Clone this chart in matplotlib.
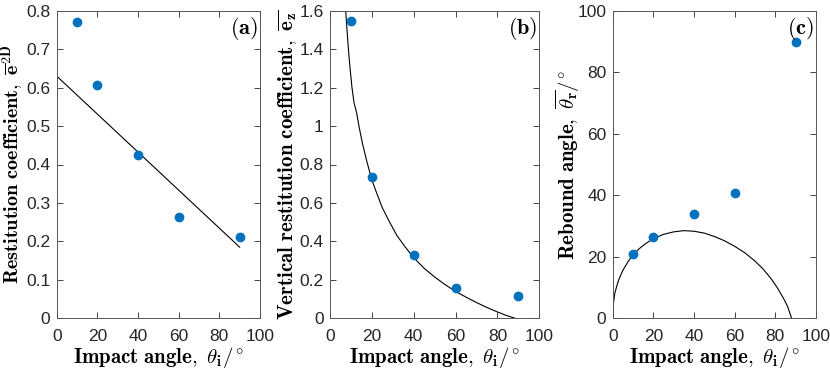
import matplotlib
matplotlib.use('Agg')
import matplotlib.pyplot as plt
from matplotlib.ticker import FuncFormatter, MultipleLocator

plt.rcParams['mathtext.fontset'] = 'cm'
plt.rcParams['font.family'] = ['Liberation Sans', 'DejaVu Sans']

# measured data
impact = [10, 20, 40, 60, 90]
e2d = [0.770, 0.608, 0.425, 0.263, 0.212]
ez = [1.548, 0.735, 0.328, 0.159, 0.118]
rebound = [20.8, 26.4, 33.9, 40.7, 89.9]

# fitted curves
fit_a_x = [0, 90]
fit_a_y = [0.630, 0.185]

fit_b_x = [7.5, 8, 8.8, 9.5, 10.5, 11.5, 12.7, 14, 15.5, 17.5, 20, 22, 25, 28, 32, 36, 40, 45,
           50, 55, 60, 65, 70, 75, 80, 84, 88.4]
fit_b_y = [1.60, 1.52, 1.40, 1.31, 1.20, 1.12, 1.07, 0.99, 0.91, 0.82, 0.72, 0.66, 0.575, 0.51,
           0.43, 0.37, 0.315, 0.26, 0.215, 0.175, 0.14, 0.11, 0.082, 0.056, 0.033, 0.016, 0.0]

fit_c_x = [0, 0.3, 1, 2, 3, 5, 7.5, 10, 13, 16, 20, 25, 30, 35, 40, 45, 50, 55, 60, 65, 70, 74,
           78, 81, 84, 86, 88]
fit_c_y = [0, 4.5, 8.0, 10.5, 12.6, 15.6, 18.4, 20.6, 22.6, 24.2, 25.9, 27.3, 28.1, 28.5, 28.3,
           27.7, 26.6, 25.2, 23.4, 21.3, 18.6, 16.0, 12.8, 9.9, 6.5, 3.9, 0.0]

W, H = 830, 369
fig = plt.figure(figsize=(W / 100, H / 100), dpi=100)

Y_TOP, Y_BOT = 10.7, 318.3

def axes_px(x0, x1):
    return fig.add_axes([x0 / W, 1 - Y_BOT / H, (x1 - x0) / W, (Y_BOT - Y_TOP) / H])

ax_a = axes_px(56.7, 260.0)
ax_b = axes_px(330.0, 539.3)
ax_c = axes_px(612.7, 816.0)

blue = '#0072BD'
gray = '#262626'
fmt = FuncFormatter(lambda v, p: f'{v:g}')

xlabel = r'$\mathbf{Impact\ angle,}\ \theta_{\mathbf{i}}/^{\circ}$'

def style(ax, x0, x1, ymax, ystep, letter, ylabel, ylab_right, ylab_size=15):
    ax.set_xlim(0, 100)
    ax.set_ylim(0, ymax)
    ax.xaxis.set_major_locator(MultipleLocator(20))
    ax.yaxis.set_major_locator(MultipleLocator(ystep))
    ax.xaxis.set_major_formatter(fmt)
    ax.yaxis.set_major_formatter(fmt)
    ax.tick_params(direction='in', top=True, right=True, length=4, width=0.6,
                   labelsize=12.5, colors=gray)
    ax.tick_params(axis='x', pad=7.5)
    ax.tick_params(axis='y', pad=4.5)
    for s in ax.spines.values():
        s.set_color('#555555')
        s.set_linewidth(0.7)
    ax.set_xlabel(xlabel, fontsize=15)
    ax.xaxis.set_label_coords(0.5, -(345 - Y_BOT) / (Y_BOT - Y_TOP))
    ax.set_ylabel(ylabel, fontsize=ylab_size)
    ax.yaxis.set_label_coords((ylab_right - x0) / (x1 - x0), 0.5)
    ax.text(0.99, 0.985, r'$\mathbf{(' + letter + r')}$', transform=ax.transAxes,
            ha='right', va='top', fontsize=16)

ax_a.plot(fit_a_x, fit_a_y, color='black', lw=0.8)
ax_a.plot(impact, e2d, 'o', color=blue, ms=6, mec=blue)
style(ax_a, 56.7, 260.0, 0.8, 0.1, 'a',
      r'$\mathbf{Restitution\ coefficient,}\ \overline{\mathbf{e}}^{\mathbf{2D}}$', 26.5, 14.5)

ax_b.plot(fit_b_x, fit_b_y, color='black', lw=0.8)
ax_b.plot(impact, ez, 'o', color=blue, ms=6, mec=blue)
style(ax_b, 330.0, 539.3, 1.6, 0.2, 'b',
      r'$\mathbf{Vertical\ restitution\ coefficient,}\ \overline{\mathbf{e_z}}$', 300)

ax_c.plot(fit_c_x, fit_c_y, color='black', lw=0.8)
ax_c.plot(impact, rebound, 'o', color=blue, ms=6, mec=blue, clip_on=False)
style(ax_c, 612.7, 816.0, 100, 20, 'c',
      r'$\mathbf{Rebound\ angle,}\ \overline{\theta_{\mathbf{r}}}/^{\circ}$', 582)

fig.savefig('out.png', dpi=100)
